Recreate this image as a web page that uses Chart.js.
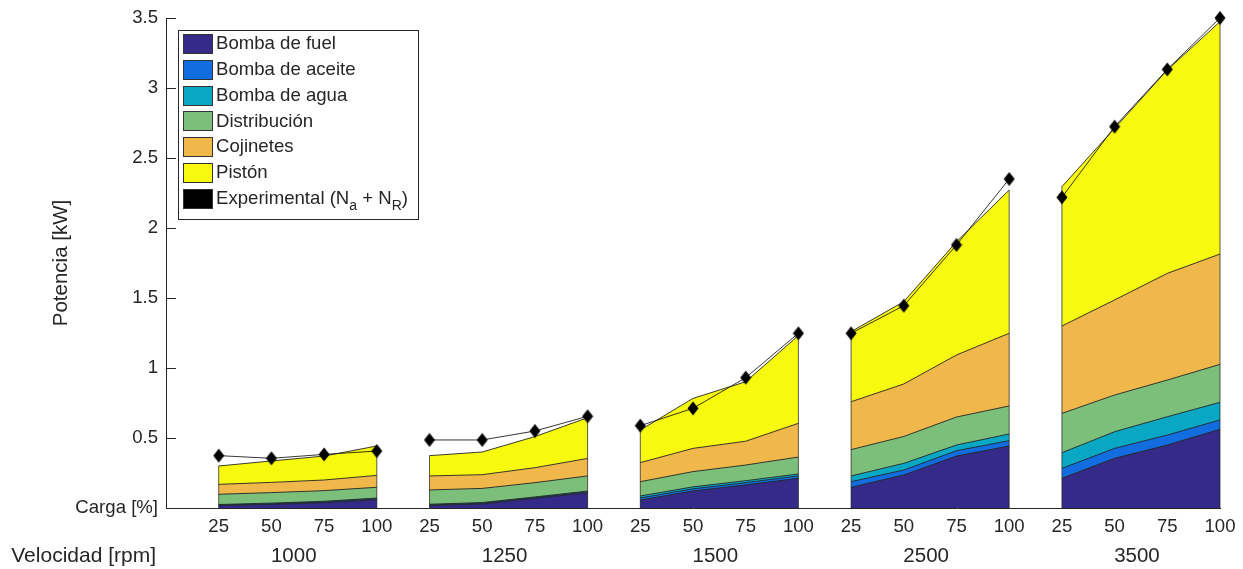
<!DOCTYPE html>
<html><head><meta charset="utf-8">
<script src="https://cdn.jsdelivr.net/npm/chart.js@4.4.1/dist/chart.umd.min.js"></script>
<style>html,body{margin:0;padding:0;background:#fff;}canvas{display:block;}</style>
</head><body>
<canvas id="c" width="1243" height="569"></canvas>
<script>
// ---- data ----
const speeds = ['1000', '1250', '1500', '2500', '3500'];
const loads = ['25', '50', '75', '100'];
const fuel        = [0.017,0.026,0.038,0.060, 0.017,0.029,0.069,0.109, 0.057,0.122,0.165,0.212, 0.148,0.236,0.371,0.443, 0.212,0.355,0.450,0.562];
const aceite      = [0.004,0.004,0.005,0.005, 0.005,0.005,0.005,0.006, 0.015,0.015,0.016,0.017, 0.040,0.035,0.038,0.038, 0.071,0.071,0.071,0.067];
const agua        = [0.004,0.005,0.005,0.006, 0.005,0.005,0.005,0.006, 0.014,0.014,0.014,0.014, 0.041,0.048,0.041,0.048, 0.112,0.119,0.131,0.126];
const distribucion= [0.073,0.075,0.076,0.077, 0.102,0.101,0.102,0.108, 0.102,0.109,0.112,0.121, 0.188,0.192,0.200,0.200, 0.281,0.262,0.262,0.271];
const cojinetes   = [0.071,0.073,0.076,0.085, 0.100,0.098,0.107,0.125, 0.136,0.166,0.170,0.241, 0.342,0.375,0.443,0.519, 0.624,0.679,0.762,0.788];
const piston      = [0.131,0.153,0.171,0.210, 0.145,0.162,0.222,0.291, 0.233,0.357,0.425,0.627, 0.501,0.588,0.809,1.023, 0.995,1.226,1.453,1.660];
const experimental= [0.374,0.355,0.383,0.407, 0.486,0.486,0.550,0.655, 0.588,0.712,0.931,1.248, 1.248,1.445,1.879,2.350, 2.219,2.724,3.133,3.500];

const seriesNames = ['Bomba de fuel','Bomba de aceite','Bomba de agua','Distribución','Cojinetes','Pistón'];
const seriesColors = ['#352a87','#126ee0','#08a8c5','#7cbf7b','#f0b74a','#f7f90e'];
const components = [fuel, aceite, agua, distribucion, cojinetes, piston];

const FONT = '"Liberation Sans", Arial, Helvetica, sans-serif';
const TXT = '#262626';

// cumulative stacks
const cum = [];
components.forEach((arr, k) => {
  cum.push(arr.map((v, i) => v + (k > 0 ? cum[k - 1][i] : 0)));
});
const total = cum[cum.length - 1];

function toPoints(arr) {
  const pts = [];
  arr.forEach((v, i) => {
    if (i > 0 && i % loads.length === 0) pts.push({x: i + 0.5, y: null});
    pts.push({x: i + 1, y: v});
  });
  return pts;
}

// diamond marker
const diamond = document.createElement('canvas');
diamond.width = 12; diamond.height = 15;
(function(){
  const d = diamond.getContext('2d');
  d.fillStyle = '#000';
  d.beginPath(); d.moveTo(6, 0.5); d.lineTo(11.5, 7.5); d.lineTo(6, 14.5); d.lineTo(0.5, 7.5); d.closePath(); d.fill();
})();

const datasets = components.map((arr, k) => ({
  label: seriesNames[k],
  data: toPoints(cum[k]),
  backgroundColor: seriesColors[k],
  borderColor: 'rgba(38,38,38,0.9)',
  borderWidth: 1,
  fill: 'origin',
  pointRadius: 0,
  tension: 0,
  spanGaps: false,
  order: 0
}));
datasets.push({
  label: 'Experimental (Na + NR)',
  data: toPoints(experimental),
  borderColor: 'rgba(20,20,20,0.85)',
  backgroundColor: '#000',
  borderWidth: 1,
  fill: false,
  pointStyle: diamond,
  pointRadius: 7,
  spanGaps: false,
  clip: false,
  order: -1
});

const custom = {
  id: 'custom',
  afterDatasetDraw(chart, args) {
    if (args.index !== 0) return;
    const ctx = chart.ctx, xs = chart.scales.x, ys = chart.scales.y;
    ctx.save();
    ctx.strokeStyle = 'rgba(38,38,38,0.75)';
    ctx.lineWidth = 1;
    speeds.forEach((s, g) => {
      [0, loads.length - 1].forEach(k => {
        const i = g * loads.length + k;
        const px = xs.getPixelForValue(i + 1);
        ctx.beginPath();
        ctx.moveTo(px, ys.getPixelForValue(0));
        ctx.lineTo(px, ys.getPixelForValue(total[i]));
        ctx.stroke();
      });
    });
    ctx.restore();
  },
  afterDraw(chart) {
    const ctx = chart.ctx, xs = chart.scales.x, ys = chart.scales.y, ca = chart.chartArea;
    ctx.save();
    // inward y ticks
    ctx.strokeStyle = TXT; ctx.lineWidth = 1;
    ys.ticks.forEach(t => {
      const py = Math.round(ys.getPixelForValue(t.value)) + 0.5;
      ctx.beginPath(); ctx.moveTo(ca.left, py); ctx.lineTo(ca.left + 10, py); ctx.stroke();
    });
    // y title
    ctx.fillStyle = TXT;
    ctx.font = '20.5px ' + FONT;
    ctx.textAlign = 'center'; ctx.textBaseline = 'middle';
    ctx.save();
    ctx.translate(61, (ca.top + ca.bottom) / 2);
    ctx.rotate(-Math.PI / 2);
    ctx.fillText('Potencia [kW]', 0, 0);
    ctx.restore();
    // speed row
    ctx.font = '21px ' + FONT;
    ctx.textAlign = 'right';
    ctx.fillText('Velocidad [rpm]', 156, 556);
    ctx.font = '20.5px ' + FONT;
    ctx.textAlign = 'center';
    speeds.forEach((s, g) => {
      const c = (xs.getPixelForValue(g * 4 + 1) + xs.getPixelForValue(g * 4 + 4)) / 2;
      ctx.fillText(s, c - 4, 556);
    });
    // legend
    const lx = 178.5, ly = 30.5, lw = 240, lh = 189;
    ctx.fillStyle = '#fff'; ctx.fillRect(lx, ly, lw, lh);
    ctx.strokeStyle = TXT; ctx.strokeRect(lx, ly, lw, lh);
    const ds = chart.data.datasets;
    ds.forEach((d, r) => {
      const yc = 44 + r * 25.8;
      ctx.fillStyle = r < seriesColors.length ? d.backgroundColor : '#000';
      ctx.fillRect(183, Math.round(yc - 10), 30, 20);
      ctx.strokeStyle = '#333';
      ctx.strokeRect(183.5, Math.round(yc - 10) + 0.5, 29, 19);
      ctx.fillStyle = TXT;
      ctx.textAlign = 'left'; ctx.textBaseline = 'middle';
      if (r < seriesColors.length) {
        ctx.font = '18.6px ' + FONT;
        ctx.fillText(d.label, 216, yc);
      } else {
        const parts = [['Experimental (N', 0], ['a', 1], [' + N', 0], ['R', 1], [')', 0]];
        let x = 216;
        parts.forEach(([t, sub]) => {
          ctx.font = (sub ? '14px ' : '18.6px ') + FONT;
          ctx.fillText(t, x, yc + (sub ? 7 : 0));
          x += ctx.measureText(t).width;
        });
      }
    });
    ctx.restore();
  }
};

new Chart(document.getElementById('c'), {
  type: 'line',
  data: {datasets},
  options: {
    responsive: false,
    animation: false,
    events: [],
    layout: {padding: {left: 0, right: 23, top: 18, bottom: 0}},
    plugins: {legend: {display: false}, tooltip: {enabled: false}},
    scales: {
      x: {
        type: 'linear', min: 0, max: 20,
        grid: {display: false, drawTicks: false},
        border: {display: true, color: TXT, width: 1},
        ticks: {
          stepSize: 1, autoSkip: false, maxRotation: 0, minRotation: 0, padding: 8,
          color: TXT, font: {family: FONT, size: 18.6},
          callback: v => (Number.isInteger(v) && v >= 1) ? loads[(v - 1) % loads.length] : ''
        },
        afterFit: s => { s.height = 61; s.paddingLeft = 0; s.paddingRight = 0; }
      },
      y: {
        min: 0, max: 3.5,
        grid: {display: false, drawTicks: false},
        border: {display: true, color: TXT, width: 1},
        ticks: {
          stepSize: 0.5, padding: 8, color: TXT, font: {family: FONT, size: 18.6},
          callback: v => v === 0 ? 'Carga [%]' : String(v)
        },
        afterFit: s => { s.width = 166; s.paddingTop = 0; s.paddingBottom = 0; }
      }
    }
  },
  plugins: [custom]
});
</script>
</body></html>
